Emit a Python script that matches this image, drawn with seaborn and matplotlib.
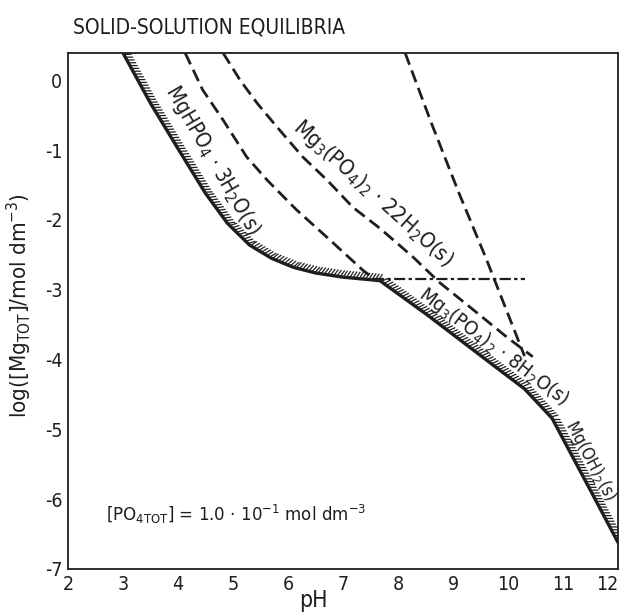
import matplotlib
matplotlib.use("Agg")
import matplotlib.pyplot as plt
import matplotlib.patheffects as pe
import matplotlib.font_manager as fm
import seaborn as sns

# ---- data ----
# total solubility boundary (solid, hatched)
ph_solid = [3.0, 3.5, 4.0, 4.5, 4.9, 5.3, 5.7, 6.1, 6.5, 7.0, 7.4, 7.67,
            8.53, 9.73, 10.3, 10.8, 11.49, 12.0]
log_solid = [0.39, -0.33, -0.98, -1.62, -2.05, -2.36, -2.55, -2.68, -2.76, -2.82, -2.85, -2.87,
             -3.36, -4.08, -4.42, -4.84, -5.86, -6.62]
# Mg3(PO4)2·8H2O metastable extension (dashed)
ph_8h2o_ext = [4.13, 4.45, 4.82, 5.25, 5.62, 6.16, 6.71, 7.36, 7.62]
log_8h2o_ext = [0.39, -0.14, -0.57, -1.10, -1.43, -1.86, -2.25, -2.72, -2.88]
# Mg3(PO4)2·22H2O (dashed)
ph_22h2o = [4.82, 5.13, 5.44, 5.80, 6.27, 6.71, 7.18, 7.67, 8.27, 8.76, 9.31, 9.98, 10.45]
log_22h2o = [0.39, 0.0, -0.33, -0.67, -1.10, -1.43, -1.82, -2.12, -2.53, -2.90, -3.25, -3.68, -3.96]
# steep dashed curve
ph_steep = [8.13, 8.6, 9.1, 9.6, 10.0, 10.3]
log_steep = [0.39, -0.60, -1.60, -2.55, -3.35, -3.95]
# MgHPO4·3H2O metastable extension (dash-dot, flat)
ph_flat = [7.55, 10.3]
log_flat = [-2.84, -2.84]

x_ticks = [2, 3, 4, 5, 6, 7, 8, 9, 10, 11, 12]
y_ticks = [0, -1, -2, -3, -4, -5, -6, -7]

title = "SOLID-SOLUTION EQUILIBRIA"
xlabel = "pH"
ylabel = r"log([Mg$_{TOT}$]/mol dm$^{-3}$)"
note = r"[PO$_{4TOT}$] = 1.0 $\cdot$ 10$^{-1}$ mol dm$^{-3}$"
lab_3h2o = r"MgHPO$_4$ $\cdot$ 3H$_2$O(s)"
lab_22h2o = r"Mg$_3$(PO$_4$)$_2$ $\cdot$ 22H$_2$O(s)"
lab_8h2o = r"Mg$_3$(PO$_4$)$_2$ $\cdot$ 8H$_2$O(s)"
lab_oh = r"Mg(OH)$_2$(s)"

# ---- pick a narrow font if one is installed ----
names = {f.name for f in fm.fontManager.ttflist}
cond = any(f.name == "DejaVu Sans" and "condensed" in str(f.stretch) for f in fm.fontManager.ttflist)
if "Liberation Sans Narrow" in names:
    fam, stretch, tag = "Liberation Sans Narrow", "normal", "narrow"
elif cond:
    fam, stretch, tag = "DejaVu Sans", "condensed", "cond"
else:
    fam, stretch, tag = "Liberation Sans", "normal", "lib"

sns.set_style("white")
plt.rcParams["font.family"] = [fam, "DejaVu Sans"]
plt.rcParams["font.stretch"] = stretch
plt.rcParams["mathtext.default"] = "regular"

scale = 1.0 if tag in ("narrow", "cond") else 0.85

fig = plt.figure(figsize=(6.22, 6.14), dpi=100)
ax = fig.add_axes([68 / 622, 1 - 569 / 614, 550 / 622, 516 / 614])

ink = "#1e1e1e"
dash = (0, (4.5, 2.2))

sns.lineplot(x=ph_solid, y=log_solid, ax=ax, sort=False, estimator=None, color=ink, lw=2.4,
             path_effects=[pe.withTickedStroke(spacing=2.3, angle=62, length=2.3, linewidth=0.9)])
sns.lineplot(x=ph_8h2o_ext, y=log_8h2o_ext, ax=ax, sort=False, estimator=None, color=ink, lw=2.0,
             linestyle=dash)
sns.lineplot(x=ph_22h2o, y=log_22h2o, ax=ax, sort=False, estimator=None, color=ink, lw=2.0,
             linestyle=dash)
sns.lineplot(x=ph_steep, y=log_steep, ax=ax, sort=False, estimator=None, color=ink, lw=2.0,
             linestyle=dash)
sns.lineplot(x=ph_flat, y=log_flat, ax=ax, sort=False, estimator=None, color=ink, lw=1.6,
             linestyle=(0, (5, 1.5, 1.5, 1.5)))

ax.set_xlim(2, 12)
ax.set_ylim(-7, 0.39)
ax.set_xticks(x_ticks)
ax.set_yticks(y_ticks)
ax.set_xticklabels([str(v) for v in x_ticks])
ax.set_yticklabels([str(v) for v in y_ticks])
ax.tick_params(direction="in", length=7, width=1.1, labelsize=14 * scale, colors=ink, pad=4)
ax.get_xticklabels()[-1].set_ha("right")
for s in ax.spines.values():
    s.set_color(ink)
    s.set_linewidth(1.3)
    s.set_visible(True)

ax.set_xlabel(xlabel, fontsize=16.5 * scale, color=ink)
ax.xaxis.set_label_coords(0.447, -0.038)
ax.set_ylabel(ylabel, fontsize=16 * scale, color=ink)
ax.yaxis.set_label_coords(-0.062, 0.51)

fig.text(73 / 622, 1 - 27 / 614, title, fontsize=15 * scale, color=ink, va="center", ha="left")

kw = dict(color=ink, ha="center", va="center", rotation_mode="anchor")
ax.text(4.64, -1.15, lab_3h2o, rotation=-60, fontsize=15 * scale, **kw)
ax.text(7.55, -1.62, lab_22h2o, rotation=-42, fontsize=15.5 * scale, **kw)
ax.text(9.74, -3.82, lab_8h2o, rotation=-37, fontsize=14.5 * scale, **kw)
ax.text(11.50, -5.45, lab_oh, rotation=-62, fontsize=12.5 * scale, **kw)
ax.text(2.7, -6.22, note, fontsize=13.3 * scale, color=ink, ha="left", va="center")

fig.savefig("out.png", dpi=100)
